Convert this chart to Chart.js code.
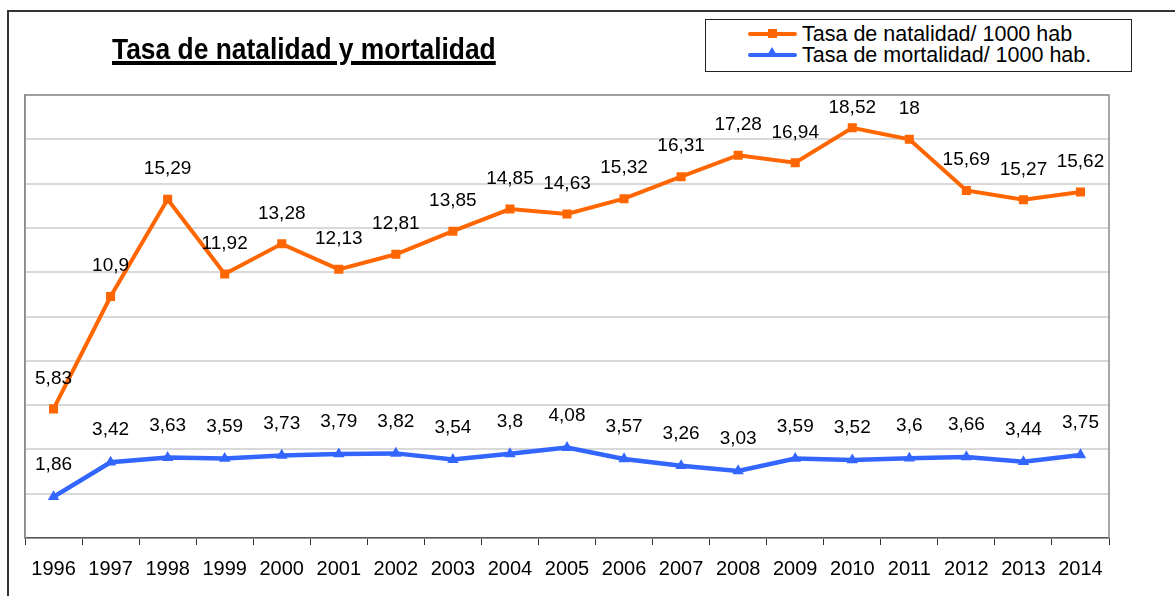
<!DOCTYPE html>
<html>
<head>
<meta charset="utf-8">
<script src="https://cdn.jsdelivr.net/npm/chart.js@4/dist/chart.umd.min.js"></script>
<style>
  html, body { margin: 0; padding: 0; background: #fff; width: 1175px; height: 596px; overflow: hidden; font-family: "Liberation Sans", Arial, sans-serif; }
  #frame { position: absolute; left: 7px; top: 10px; width: 1200px; height: 620px; border-left: 2px solid #333; border-top: 2px solid #333; box-sizing: border-box; }
  #title { position: absolute; left: 112px; top: 32px; font-weight: bold; font-size: 29px; line-height: 34px; color: #000; white-space: nowrap;
           text-decoration: underline; text-decoration-thickness: 3.5px; text-underline-offset: 2px; transform: scaleX(0.91); transform-origin: 0 0; }
  #legend { position: absolute; left: 705px; top: 19px; width: 427px; height: 53px; border: 1px solid #222; box-sizing: border-box; background: #fff; }
  .row { position: absolute; left: 42px; height: 22px; font-size: 21.5px; line-height: 22px; color: #000; white-space: nowrap; }
  .sample { position: absolute; left: 0; top: 9px; width: 49px; height: 4px; border-radius: 2px; }
  .sq { position: absolute; left: 20px; top: 6px; width: 9px; height: 9px; }
  .tri { position: absolute; left: 18px; top: 3px; width: 0; height: 0; border-left: 6px solid transparent; border-right: 6px solid transparent; }
  .txt { position: absolute; left: 54px; top: 0; }
  #c { position: absolute; left: 0; top: 0; }
</style>
</head>
<body>
<div id="frame"></div>
<canvas id="c" width="1175" height="596"></canvas>
<div id="title">Tasa de natalidad y mortalidad</div>
<div id="legend"></div>
<script>
const years = ["1996","1997","1998","1999","2000","2001","2002","2003","2004","2005","2006","2007","2008","2009","2010","2011","2012","2013","2014"];
const natalidad = [5.83, 10.9, 15.29, 11.92, 13.28, 12.13, 12.81, 13.85, 14.85, 14.63, 15.32, 16.31, 17.28, 16.94, 18.52, 18, 15.69, 15.27, 15.62];
const mortalidad = [1.86, 3.42, 3.63, 3.59, 3.73, 3.79, 3.82, 3.54, 3.8, 4.08, 3.57, 3.26, 3.03, 3.59, 3.52, 3.6, 3.66, 3.44, 3.75];
const seriesNames = ["Tasa de natalidad/ 1000 hab", "Tasa de mortalidad/ 1000 hab."];
const seriesColors = ["#FF6600", "#3366FF"];
const yMin = 0, yMax = 20, yStep = 2;

// HTML legend
(function(){
  const lg = document.getElementById('legend');
  seriesNames.forEach((name, i) => {
    const r = document.createElement('div');
    r.className = 'row';
    r.style.top = (i === 0 ? 3 : 24) + 'px';
    const s = document.createElement('div'); s.className = 'sample'; s.style.background = seriesColors[i]; r.appendChild(s);
    const m = document.createElement('div');
    if (i === 0) { m.className = 'sq'; m.style.background = seriesColors[i]; }
    else { m.className = 'tri'; m.style.borderBottom = '10px solid ' + seriesColors[i]; }
    r.appendChild(m);
    const t = document.createElement('span'); t.className = 'txt'; t.textContent = name; r.appendChild(t);
    lg.appendChild(r);
  });
})();

const fmt = v => String(v).replace('.', ',');
const labelOffsets = [30.5, 32];

const frameAndLabels = {
  id: 'frameAndLabels',
  beforeDatasetsDraw(chart) {
    const a = chart.chartArea, ctx = chart.ctx;
    ctx.save();
    ctx.strokeStyle = '#8c8c8c';
    ctx.lineWidth = 1.5;
    ctx.beginPath();
    ctx.moveTo(a.left, a.bottom);
    ctx.lineTo(a.left, a.top);
    ctx.lineTo(a.right, a.top);
    ctx.lineTo(a.right, a.bottom);
    ctx.stroke();
    ctx.restore();
  },
  afterDatasetsDraw(chart) {
    const ctx = chart.ctx, a = chart.chartArea;
    ctx.save();
    ctx.font = '19px "Liberation Sans", Arial, sans-serif';
    ctx.fillStyle = '#000';
    ctx.textAlign = 'center';
    ctx.textBaseline = 'middle';
    chart.data.datasets.forEach((ds, di) => {
      const meta = chart.getDatasetMeta(di);
      meta.data.forEach((pt, i) => {
        const y = Math.max(pt.y - labelOffsets[di], a.top + 13);
        ctx.fillText(fmt(ds.data[i]), pt.x, y);
      });
    });
    ctx.restore();
  }
};

new Chart(document.getElementById('c'), {
  type: 'line',
  data: {
    labels: years,
    datasets: [
      { label: seriesNames[0], data: natalidad, borderColor: seriesColors[0], backgroundColor: seriesColors[0],
        borderWidth: 4, pointStyle: 'rect', pointRadius: 6.4, pointBorderWidth: 0, tension: 0 },
      { label: seriesNames[1], data: mortalidad, borderColor: seriesColors[1], backgroundColor: seriesColors[1],
        borderWidth: 4.5, pointStyle: 'triangle', pointRadius: 6.6, pointBorderWidth: 0, tension: 0 }
    ]
  },
  options: {
    responsive: false,
    animation: false,
    devicePixelRatio: 1,
    layout: { padding: { left: 25, top: 95, right: 66, bottom: 3 } },
    plugins: { legend: { display: false }, title: { display: false }, tooltip: { enabled: false } },
    scales: {
      x: {
        offset: true,
        grid: { offset: true, drawOnChartArea: false, drawTicks: true, tickLength: 7, color: '#333', lineWidth: 1 },
        border: { display: true, color: '#555', width: 1.5 },
        ticks: { color: '#000', font: { size: 20, family: '"Liberation Sans", Arial, sans-serif' }, padding: 12, maxRotation: 0, autoSkip: false }
      },
      y: {
        min: yMin, max: yMax,
        ticks: { display: false, stepSize: yStep },
        grid: { color: '#d9d9d9', lineWidth: 2, drawTicks: false },
        border: { display: true, color: '#8c8c8c', width: 1.5 }
      }
    }
  },
  plugins: [frameAndLabels]
});
</script>
</body>
</html>
